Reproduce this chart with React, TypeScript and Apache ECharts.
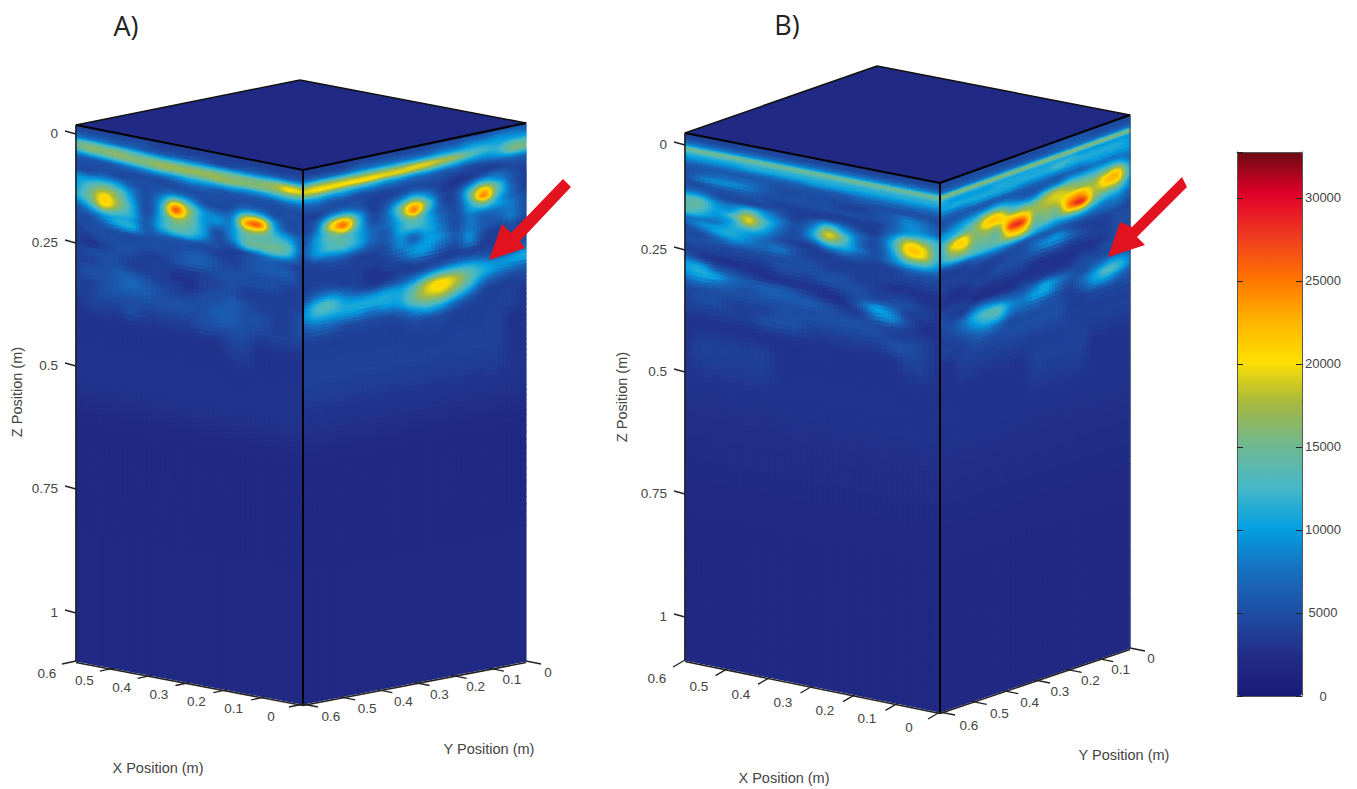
import React, { useEffect, useRef } from "react";
import * as echarts from "echarts";

// Depth of each sampled row, in px below the top edge of a face; columns are evenly spaced across a face.
const DEPTHS = [0,6,12,16,20,24,28,32,38,44,50,55,60,65,70,75,80,85,90,95,100,108,116,124,132,140,148,156,165,175,190,215,250,300,400,535];

// Amplitudes in thousands. One row per depth.
const A_LEFT = [
[4,4,4,4,4,4,4,4,4,4,4,4,4,4,4,4,4],
[5,5,5,5,5,5,4,4,4,4,4,4,4,4,4,4,4],
[8,8,8,7,7,6,6,6,6,6,5,5,6,6,6,6,6],
[13,14,13,13,12,11,10,10,10,10,10,10,10,10,11,11,11],
[15,16,16,16,15,15,15,15,15,15,15,15,15,15,16,18,17],
[13,15,15,16,16,16,17,17,17,17,17,16,16,16,17,20,19],
[9,10,11,12,13,14,15,15,15,15,16,16,15,15,15,16,15],
[6,6,6,7,8,9,10,10,11,11,11,11,10,10,11,12,11],
[5,5,5,5,5,5,5,6,7,7,6,6,6,6,6,7,7],
[5,5,6,5,5,5,5,5,5,5,5,5,5,5,5,5,5],
[9,9,10,9,6,5,6,8,7,5,5,5,7,7,5,5,5],
[10,12,14,12,8,5,8,14,11,6,5,6,12,12,7,5,5],
[10,14,17,15,9,5,10,21,15,9,7,8,19,21,10,5,5],
[11,15,20,16,10,5,11,26,17,10,9,9,23,25,11,6,5],
[11,15,21,17,11,5,11,23,16,10,9,9,19,19,12,9,6],
[9,13,20,16,11,5,11,17,15,10,7,9,15,15,13,11,6],
[6,10,15,13,11,6,11,15,14,10,5,9,14,14,14,13,6],
[5,7,10,11,10,6,11,14,13,10,5,8,14,15,15,13,6],
[5,5,8,11,11,6,9,11,11,8,5,6,11,12,13,11,5],
[5,5,6,8,9,6,6,6,6,5,5,4,5,7,8,7,5],
[4,5,5,5,5,5,5,5,5,5,4,4,5,6,6,5,4],
[4,4,5,5,5,5,5,5,6,6,5,4,5,6,6,6,4],
[4,3,4,5,5,4,4,5,6,6,5,5,5,5,5,5,4],
[4,5,5,5,4,4,4,4,4,4,5,5,5,5,5,4,4],
[4,4,5,5,4,4,4,3,3,4,4,5,4,4,4,4,4],
[4,5,5,6,6,5,4,4,3,4,5,5,4,4,4,4,4],
[4,5,5,6,7,6,5,4,4,5,5,6,5,4,4,4,5],
[4,4,5,6,6,6,5,5,5,5,6,6,5,5,4,4,5],
[4,4,5,5,5,5,5,5,5,5,6,6,5,5,4,4,5],
[3,4,4,4,5,4,4,4,4,5,5,5,5,4,4,4,4],
[3,3,3,3,3,3,3,3,3,3,3,4,4,3,3,3,3],
[3,3,3,3,3,3,3,3,3,3,3,3,3,3,3,3,3],
[3,3,3,3,3,3,3,3,3,3,3,3,3,3,3,3,3],
[2,2,2,2,2,2,2,2,2,2,2,2,2,2,2,2,2],
[2,2,2,2,2,2,2,2,2,2,2,2,2,2,2,2,2],
[2,2,2,2,2,2,2,2,2,2,2,2,2,2,2,2,2],
];
const A_RIGHT = [
[4,4,4,4,4,4,4,4,4,4,4,4,4,4,5,5,5],
[4,4,4,4,5,5,5,5,5,5,6,6,7,7,8,8,7],
[7,7,7,7,8,8,8,8,8,8,9,9,10,10,10,10,10],
[12,13,13,13,13,13,13,13,13,13,13,13,12,12,11,13,13],
[17,18,18,18,18,18,18,18,19,19,18,17,14,12,12,15,15],
[19,20,20,20,20,20,19,19,18,17,15,13,11,10,11,15,15],
[15,16,15,14,14,13,12,12,11,11,10,9,8,8,9,11,11],
[10,11,10,10,9,9,8,8,7,7,6,6,5,5,6,7,7],
[6,7,6,6,5,5,5,5,5,5,5,4,4,4,4,5,5],
[5,5,5,5,5,4,4,5,6,5,4,3,4,6,7,5,4],
[4,4,7,8,6,4,5,8,11,8,4,4,8,12,9,6,4],
[4,6,12,14,9,4,6,12,17,11,5,5,12,18,13,6,4],
[4,7,18,22,12,5,7,15,23,14,5,5,14,23,14,7,4],
[4,8,19,25,13,5,7,14,24,13,6,5,13,24,13,7,4],
[5,9,15,20,12,6,7,12,18,11,6,5,11,17,11,7,5],
[5,10,14,14,11,7,7,11,14,11,7,5,10,12,10,8,5],
[6,10,13,14,11,7,6,11,13,11,7,5,8,8,8,8,5],
[6,10,13,13,11,7,6,10,10,11,8,5,8,6,7,8,5],
[5,9,10,11,9,6,6,9,7,10,8,5,8,6,6,8,5],
[4,6,7,7,6,5,5,9,7,10,9,6,8,6,5,6,4],
[4,4,5,5,4,4,5,8,9,10,8,6,9,5,4,5,4],
[4,4,4,4,4,4,4,6,9,9,6,5,8,4,4,4,4],
[4,4,4,4,4,3,4,4,5,5,4,4,4,4,4,4,5],
[4,5,5,4,4,3,3,4,4,5,6,7,7,6,5,6,8],
[5,8,9,7,5,4,5,6,8,11,13,13,12,10,9,10,11],
[8,12,13,10,9,9,10,10,13,18,20,18,14,11,9,8,7],
[9,12,12,11,11,11,11,11,15,19,20,17,13,8,6,5,5],
[7,9,9,9,9,8,9,10,14,16,16,13,9,5,4,4,4],
[5,6,6,5,5,5,5,6,9,11,10,7,5,4,4,4,3],
[4,4,4,4,4,4,4,4,5,5,5,4,4,4,4,4,3],
[4,4,4,4,4,4,4,4,4,4,4,4,4,4,4,3,3],
[4,4,4,4,4,4,4,4,4,4,4,4,4,4,4,3,3],
[3,3,3,3,3,3,3,3,3,3,3,3,3,3,3,3,3],
[2,2,2,2,2,2,2,2,2,2,2,2,2,2,2,2,2],
[2,2,2,2,2,2,2,2,2,2,2,2,2,2,2,2,2],
[2,2,2,2,2,2,2,2,2,2,2,2,2,2,2,2,2],
];
const B_LEFT = [
[4,4,4,4,4,4,4,4,4,4,4,4,4,4,4,4,4],
[5,5,5,5,5,5,5,5,5,5,5,5,5,5,5,5,5],
[9,9,9,9,9,9,9,9,9,9,9,9,9,9,9,9,9],
[15,15,15,15,15,15,15,15,15,15,15,15,15,15,15,15,15],
[12,12,12,12,12,12,12,12,12,12,12,12,12,12,12,12,12],
[10,10,10,10,11,11,11,11,11,11,11,11,11,11,11,11,11],
[8,8,8,8,8,8,8,8,9,9,9,9,9,9,9,9,9],
[6,6,6,6,6,6,6,6,6,6,6,7,7,7,7,7,7],
[5,6,7,7,7,6,5,5,5,5,5,5,5,5,5,5,5],
[5,8,9,9,8,6,5,5,5,5,4,4,5,6,8,7,5],
[5,5,6,6,6,5,5,5,5,5,5,5,5,6,9,8,6],
[6,6,5,5,5,5,4,4,4,4,4,4,4,6,9,9,7],
[9,9,6,5,5,5,5,4,4,5,5,4,4,7,11,12,11],
[13,13,9,8,11,9,6,4,6,11,8,5,4,9,17,16,12],
[14,14,10,10,16,11,8,5,8,16,11,7,5,11,20,19,12],
[14,13,10,13,19,13,8,5,10,19,14,7,5,11,21,20,12],
[13,11,9,11,18,12,7,5,10,17,13,7,5,10,19,19,11],
[8,8,8,11,13,10,6,5,7,12,11,8,5,9,15,15,10],
[7,9,10,11,10,8,5,4,4,7,8,6,5,8,11,11,8],
[5,7,10,11,9,7,6,5,4,4,5,5,4,5,7,7,6],
[5,5,7,9,8,7,8,5,4,4,4,4,4,4,5,5,5],
[5,5,5,5,5,5,5,5,5,4,4,4,4,4,4,4,4],
[4,4,4,4,4,4,5,5,5,5,5,4,4,3,3,3,3],
[6,4,3,3,3,3,4,4,4,5,5,5,4,4,4,3,3],
[10,10,6,5,4,3,3,3,3,3,4,5,5,5,5,4,3],
[10,11,10,7,6,6,6,5,4,3,3,6,10,8,4,4,3],
[7,8,7,6,5,6,6,6,6,5,4,4,8,9,5,3,3],
[5,5,5,5,5,5,5,5,5,5,5,5,5,5,4,3,3],
[4,5,5,4,4,4,5,5,5,5,5,5,5,4,4,4,3],
[4,4,4,4,4,5,5,5,4,4,4,4,4,5,5,4,3],
[3,3,3,3,3,3,3,3,3,3,3,3,3,3,4,4,3],
[3,4,4,4,4,4,3,3,3,3,3,3,3,3,3,3,3],
[3,3,3,3,3,3,3,3,3,3,3,3,3,3,3,3,3],
[2.5,2.5,2.5,2.5,2.5,2.5,2.5,2.5,2.5,2.5,2.5,2.5,2.5,2.5,2.5,2.5,2.5],
[2,2,2,2,2,2,2,2,2,2,2,2,2,2,2,2,2],
[2,2,2,2,2,2,2,2,2,2,2,2,2,2,2,2,2],
];
const B_RIGHT = [
[5,5,5,5,5,5,5,5,5,5,5,5,5,5,5,5,5],
[5,5,5,5,5,5,5,5,5,5,6,6,6,5,5,5,5],
[8,8,8,8,8,8,8,8,8,8,8,8,8,8,8,8,8],
[16,16,16,16,16,16,16,16,16,16,16,16,16,16,16,16,16],
[12,11,11,11,11,11,11,11,11,11,11,11,10,10,10,10,10],
[11,10,10,10,10,11,11,11,11,11,12,12,11,11,11,11,10],
[10,11,11,11,11,11,11,11,11,11,12,11,11,11,11,11,10],
[9,9,9,10,10,10,10,9,9,9,9,9,9,10,10,10,10],
[6,6,6,6,6,6,6,6,6,6,6,7,7,8,8,8,8],
[5,6,7,8,9,10,8,6,6,8,9,11,11,11,12,12,8],
[6,8,10,12,16,16,12,10,10,15,17,16,15,15,17,19,11],
[9,10,12,15,20,21,15,15,15,18,19,18,17,17,21,22,12],
[10,12,15,16,21,21,20,19,17,18,19,21,22,18,21,21,12],
[11,17,20,16,18,18,24,24,17,17,18,24,25,18,18,17,10],
[11,19,21,16,16,16,27,27,16,16,16,25,28,17,14,13,9],
[11,17,19,15,15,15,23,23,15,15,15,20,21,14,11,10,7],
[11,15,16,14,14,15,19,19,13,12,11,13,13,10,8,8,6],
[9,11,12,12,12,12,13,13,10,9,8,8,8,7,7,7,5],
[5,6,6,7,8,8,7,6,6,6,6,5,5,5,5,5,4],
[4,4,4,5,5,5,5,5,7,8,9,6,4,4,4,5,5],
[4,4,4,4,4,4,5,5,7,9,9,7,5,4,4,5,5],
[4,4,4,4,4,5,5,5,5,5,5,4,4,4,4,5,5],
[4,3,3,4,4,4,4,4,3,3,3,3,3,3,4,5,5],
[3,3,3,3,3,3,3,3,3,3,3,3,4,4,5,5,5],
[4,4,4,3,3,3,3,4,4,4,4,4,5,5,5,5,5],
[5,4,4,7,8,7,6,6,8,10,8,6,5,7,9,10,8],
[5,5,7,11,13,13,9,8,10,10,7,5,7,10,13,12,9],
[4,5,7,10,12,12,8,7,7,6,5,4,6,9,10,8,6],
[4,4,5,7,8,7,5,5,5,5,5,4,4,5,5,5,5],
[4,4,4,5,5,5,5,5,5,5,5,4,4,4,4,4,4],
[3,3,4,4,4,4,4,4,4,4,4,4,4,4,4,4,4],
[3,3,3,3,3,3,3,3,4,4,4,4,4,3,3,3,3],
[3,3,3,3,3,3,3,3,3,3,3,3,3,3,3,3,3],
[2.5,2.5,2.5,2.5,2.5,2.5,2.5,2.5,2.5,2.5,2.5,2.5,2.5,2.5,2.5,2.5,2.5],
[2,2,2,2,2,2,2,2,2,2,2,2,2,2,2,2,2],
[2,2,2,2,2,2,2,2,2,2,2,2,2,2,2,2,2],
];
const TOP_VALUE = 2;
const Z_TICKS = [0, 0.25, 0.5, 0.75, 1];
const XY_TICKS = [0, 0.1, 0.2, 0.3, 0.4, 0.5, 0.6];
const BAR_TICK_STEP = 5000;
const BAR_MAX = 32770;
const COLOR_STOPS = ["#1a1a78","#222e88","#1e4fa4","#176fc0","#04a0e2","#48b8c8","#70b890","#a6b840","#ffe000","#ffb200","#ff7200","#ef3a22","#e2002a","#6a0a12"];

type P = [number, number];
const CUBES = [
  { left: [76,125] as P, front: [303,170] as P, right: [526,123] as P, back: [300,80] as P,
    botLeft: [76,661] as P, botFront: [303,704] as P, botRight: [526,661] as P,
    zOffsets: [8,117,240,363,487], xOff: [[-32,12],[-29,12]], yOff: [[22,11],[28,12]],
    xTick: [-14,3], yTick: [15,3], faces: [A_LEFT, A_RIGHT], rightEdge: "" },
  { left: [685,133] as P, front: [940,183] as P, right: [1130,115] as P, back: [877,66] as P,
    botLeft: [685,660] as P, botFront: [940,712] as P, botRight: [1130,648] as P,
    zOffsets: [11,116,238,360,483], xOff: [[-31,15],[-28,18]], yOff: [[21,10],[29,13]],
    xTick: [-12,7], yTick: [15,3], faces: [B_LEFT, B_RIGHT], rightEdge: "#3a4a70" },
];

const hexRgb = (h: string) => [1, 3, 5].map((k) => parseInt(h.slice(k, k + 2), 16));
const RGB = COLOR_STOPS.map(hexRgb);
function colorOf(thousands: number) {
  const t = Math.min(0.9999, Math.max(0, (thousands * 1000) / BAR_MAX)) * (RGB.length - 1);
  const k = Math.floor(t), f = t - k;
  const c = RGB[k].map((v, n) => Math.round(v + (RGB[k + 1][n] - v) * f));
  return `rgb(${c[0]},${c[1]},${c[2]})`;
}
const lerp = (a: P, b: P, t: number): P => [a[0] + (b[0] - a[0]) * t, a[1] + (b[1] - a[1]) * t];
const FULL = DEPTHS[DEPTHS.length - 1];
function faceP(a: P, b: P, c: P, d: P, u: number, off: number): P {
  return lerp(lerp(a, b, u), lerp(c, d, u), off / FULL);
}
const cr = (p0: number, p1: number, p2: number, p3: number, t: number) =>
  0.5 * (2 * p1 + (p2 - p0) * t + (2 * p0 - 5 * p1 + 4 * p2 - p3) * t * t + (3 * p1 - p0 - 3 * p2 + p3) * t * t * t);

function shade(m: number[][], i: number, j: number, fx: number, fy: number) {
  const R = m.length - 1, C = m[0].length - 1;
  const col = (jj: number) => {
    const r = m[Math.max(0, Math.min(R, jj))];
    return cr(r[Math.max(0, i - 1)], r[i], r[Math.min(C, i + 1)], r[Math.min(C, i + 2)], fx);
  };
  return Math.max(0, cr(col(j - 1), col(j), col(j + 1), col(j + 2), fy));
}

function faceSeries(m: number[][], a: P, b: P, c: P, d: P) {
  const cols = m[0].length, rows = m.length;
  const data: number[][] = [];
  m.forEach((row, j) => row.forEach((v, i) => data.push([i, j, v])));
  return {
    type: "custom", coordinateSystem: "cartesian2d", xAxisIndex: 0, yAxisIndex: 0,
    silent: true, clip: false, progressive: 0, z: 2, data,
    renderItem: (_: any, api: any) => {
      const i = api.value(0), j = api.value(1);
      if (i >= cols - 1 || j >= rows - 1) return null;
      const near: number[] = [];
      for (let q = Math.max(0, j - 1); q <= Math.min(rows - 1, j + 2); q++)
        for (let p = Math.max(0, i - 1); p <= Math.min(cols - 1, i + 2); p++) near.push(m[q][p]);
      const rng = Math.max(...near) - Math.min(...near);
      const h = DEPTHS[j + 1] - DEPTHS[j];
      const nx = rng === 0 ? 1 : Math.min(7, Math.max(3, Math.ceil(rng / 1.5)));
      const ny = rng === 0 ? 1 : Math.min(14, Math.max(2, Math.ceil(rng / 3), Math.round(h / 5)));
      const children: any[] = [];
      const pt = (fx: number, fy: number) =>
        api.coord(faceP(a, b, c, d, (i + fx) / (cols - 1), DEPTHS[j] + h * fy));
      for (let q = 0; q < ny; q++) for (let p = 0; p < nx; p++) {
        const fill = colorOf(shade(m, i, j, (p + 0.5) / nx, (q + 0.5) / ny));
        children.push({
          type: "polygon", silent: true,
          shape: { points: [pt(p / nx, q / ny), pt((p + 1) / nx, q / ny), pt((p + 1) / nx, (q + 1) / ny), pt(p / nx, (q + 1) / ny)] },
          style: { fill, stroke: fill, lineWidth: 1.1 },
        });
      }
      return { type: "group", children };
    },
  };
}

const TXT = "#444";
const FONT = '13.5px "Liberation Sans"';
function label(text: string, x: number, y: number, align = "center", font = FONT) {
  return { type: "text", silent: true, x, y, style: { text, fill: TXT, font, align, verticalAlign: "middle" } };
}
function line(p: P, q: P, stroke: string, lineWidth: number) {
  return { type: "line", silent: true, shape: { x1: p[0], y1: p[1], x2: q[0], y2: q[1] }, style: { stroke, lineWidth } };
}

function frameSeries() {
  return {
    type: "custom", coordinateSystem: "cartesian2d", xAxisIndex: 0, yAxisIndex: 0,
    silent: true, clip: false, z: 5, data: CUBES.map((_, k) => [k, 0]),
    renderItem: (_: any, api: any) => {
      const c = CUBES[api.value(0)];
      const xy = (p: P): P => api.coord(p);
      const ch: any[] = [];
      ch.push({ type: "polygon", silent: true, shape: { points: [c.left, c.back, c.right, c.front].map(xy) }, style: { fill: colorOf(TOP_VALUE) } });
      ch.push(line(xy(c.left), xy(c.back), "#111", 1.5), line(xy(c.back), xy(c.right), "#111", 1.5));
      ch.push(line(xy(c.left), xy(c.front), "#000", 2), line(xy(c.front), xy(c.right), "#000", 2));
      ch.push(line(xy(c.front), xy(c.botFront), "#000", 2), line(xy(c.left), xy(c.botLeft), "#222", 1.6));
      if (c.rightEdge) ch.push(line(xy(c.right), xy(c.botRight), c.rightEdge, 1));
      const sh = (p: P): P => xy([p[0], p[1] + 1.5]);
      ch.push(line(sh(c.botLeft), sh(c.botFront), "#222", 1.6), line(sh(c.botFront), sh(c.botRight), "#222", 1.6));
      Z_TICKS.forEach((v, n) => {
        const y = c.left[1] + c.zOffsets[n];
        ch.push(line(xy([c.left[0] - 11, y - 2]), xy([c.left[0], y + 1]), "#222", 1.3));
        ch.push(label(String(v), ...(xy([c.left[0] - 18, y]) as P), "right"));
      });
      XY_TICKS.forEach((v) => {
        const f = v / 0.6;
        const px = lerp(c.botFront, c.botLeft, f);
        ch.push(line(xy(px), xy([px[0] + c.xTick[0], px[1] + c.xTick[1]]), "#222", 1.3));
        const ox = lerp(c.xOff[0] as P, c.xOff[1] as P, f);
        ch.push(label(String(v), ...(xy([px[0] + ox[0], px[1] + ox[1]]) as P)));
        const py = lerp(c.botRight, c.botFront, f);
        ch.push(line(xy(py), xy([py[0] + c.yTick[0], py[1] + c.yTick[1]]), "#222", 1.3));
        const oy = lerp(c.yOff[0] as P, c.yOff[1] as P, f);
        ch.push(label(String(v), ...(xy([py[0] + oy[0], py[1] + oy[1]]) as P)));
      });
      return { type: "group", children: ch };
    },
  };
}

function baseSeries() {
  return {
    type: "custom", coordinateSystem: "cartesian2d", xAxisIndex: 0, yAxisIndex: 0,
    silent: true, clip: false, z: 1, data: CUBES.map((_, k) => [k, 0]),
    renderItem: (_: any, api: any) => {
      const c = CUBES[api.value(0)];
      return {
        type: "polygon", silent: true,
        shape: { points: [c.left, c.front, c.right, c.botRight, c.botFront, c.botLeft].map((p) => api.coord(p)) },
        style: { fill: colorOf(TOP_VALUE) },
      };
    },
  };
}

const RED = "#e3121f";
const TITLE_FONT = '27px "Open Sans"';
const AXIS_FONT = '14.5px "Liberation Sans"';
const gText = (text: string, x: number, y: number, font: string, fill: string, rotation = 0) => ({
  type: "text", x, y, rotation, silent: true, z: 20,
  style: { text, font, fill, align: "center", verticalAlign: "middle" },
});

export default function App() {
  const ref = useRef<HTMLDivElement>(null);
  useEffect(() => {
    document.body.style.margin = "0";
    const chart = echarts.init(ref.current!, undefined, { renderer: "svg" });
    const series: any[] = [baseSeries()];
    CUBES.forEach((c) => {
      series.push(faceSeries(c.faces[0], c.left, c.front, c.botLeft, c.botFront));
      series.push(faceSeries(c.faces[1], c.front, c.right, c.botFront, c.botRight));
    });
    series.push(frameSeries());
    const barAxis = {
      gridIndex: 1, type: "value", min: 0, max: BAR_MAX, interval: BAR_TICK_STEP, z: 10,
      splitLine: { show: false },
      axisLine: { show: true, lineStyle: { color: "#555", width: 1 } },
      axisTick: { show: true, inside: true, length: 6, lineStyle: { color: "#222" } },
    };
    chart.setOption({
      animation: false,
      backgroundColor: "#fff",
      grid: [
        { left: 0, top: 0, width: 1357, height: 789, show: false },
        { left: 1237, top: 152, width: 65, height: 544, show: false },
      ],
      xAxis: [
        { gridIndex: 0, type: "value", min: 0, max: 1357, show: false },
        { gridIndex: 1, type: "value", min: 0, max: 1, position: "top", z: 10, splitLine: { show: false }, axisTick: { show: false }, axisLabel: { show: false }, axisLine: { show: true, onZero: false, lineStyle: { color: "#555" } } },
        { gridIndex: 1, type: "value", min: 0, max: 1, position: "bottom", z: 10, splitLine: { show: false }, axisTick: { show: false }, axisLabel: { show: false }, axisLine: { show: true, onZero: false, lineStyle: { color: "#555" } } },
      ],
      yAxis: [
        { gridIndex: 0, type: "value", min: 0, max: 789, inverse: true, show: false },
        { ...barAxis, position: "right", axisLine: { ...barAxis.axisLine, onZero: false },
          axisLabel: { show: true, showMaxLabel: false, margin: 21, align: "center", color: TXT, fontSize: 13, fontFamily: "Liberation Sans", formatter: (v: number) => String(v) } },
        { ...barAxis, position: "left", axisLine: { ...barAxis.axisLine, onZero: false }, axisLabel: { show: false } },
      ],
      visualMap: {
        type: "continuous", min: 0, max: BAR_MAX, left: 1237, top: 152, itemWidth: 65, itemHeight: 544,
        padding: 0, calculable: false, hoverLink: false, realtime: false, seriesIndex: [], z: 4,
        inRange: { color: COLOR_STOPS },
      },
      series,
      graphic: [
        gText("A)", 126, 25, TITLE_FONT, "#222"),
        gText("B)", 787, 24, TITLE_FONT, "#222"),
        gText("Z Position (m)", 17, 392, AXIS_FONT, TXT, Math.PI / 2),
        gText("Z Position (m)", 622, 397, AXIS_FONT, TXT, Math.PI / 2),
        gText("X Position (m)", 158, 768, AXIS_FONT, TXT),
        gText("Y Position (m)", 489, 749, AXIS_FONT, TXT),
        gText("X Position (m)", 784, 778, AXIS_FONT, TXT),
        gText("Y Position (m)", 1124, 755, AXIS_FONT, TXT),
        { type: "polygon", z: 20, silent: true, shape: { points: [[489,260],[502,224],[511,233],[563,179],[571,187],[520,241],[525,248]] }, style: { fill: RED } },
        { type: "polygon", z: 20, silent: true, shape: { points: [[1108,257],[1120,222],[1132,227],[1182,177],[1187,187],[1137,237],[1145,245]] }, style: { fill: RED } },
      ],
    });
    return () => chart.dispose();
  }, []);
  return <div ref={ref} style={{ width: 1357, height: 789 }} />;
}
